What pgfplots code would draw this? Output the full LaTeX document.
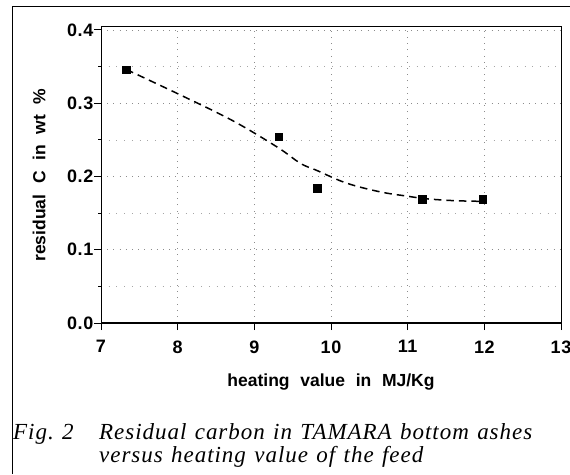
\documentclass[border=0pt]{standalone}
\usepackage{fontspec}
\setmainfont{Liberation Serif}
\setsansfont{Liberation Sans}
\newfontfamily\axfont[WordSpace=2.2]{Liberation Sans}
\newfontfamily\tickfont[LetterSpace=3]{Liberation Sans}
\newfontfamily\capfont[LetterSpace=4.2,WordSpace=1.25]{Liberation Serif}
\usepackage{pgfplots}
\pgfplotsset{compat=1.18}

\begin{document}
\begin{tikzpicture}[x=1pt,y=1pt]
\useasboundingbox (0,0) rectangle (570,474);
% frame round the figure
\draw[line width=1pt] (12,0) -- (12,467) -- (580,467);
\begin{axis}[
  at={(101pt,151pt)}, anchor=south west, scale only axis,
  width=460pt, height=296pt,
  xmin=7, xmax=13, ymin=0, ymax=0.404,
  xtick={7,8,9,10,11,12,13},
  ytick={0,0.1,0.2,0.3,0.4},
  minor ytick={0.05,0.15,0.25,0.35},
  axis line style={line width=1pt},
  tick align=outside, tick pos=left,
  major tick length=7pt,
  tick style={black, line width=0.9pt},
  /pgf/number format/assume math mode=true,
  ticklabel style={font=\tickfont\bfseries\fontsize{18}{18}\selectfont},
  yticklabel style={/pgf/number format/fixed, /pgf/number format/precision=1,
    /pgf/number format/fixed zerofill, inner sep=0.5pt},
  xticklabel style={yshift=-7pt},
  grid=both,
  major grid style={black!45, line width=0.6pt, dash pattern=on 0.7pt off 5.5pt},
  minor grid style={black!35, line width=0.6pt, dash pattern=on 0.7pt off 7pt},
  xlabel={heating value in MJ/Kg},
  ylabel={residual C in wt \%},
  label style={font=\axfont\bfseries\fontsize{17.5}{17.5}\selectfont},
  xlabel style={at={(axis description cs:0.5,0)}, anchor=center, yshift=-59pt},
  ylabel style={at={(axis description cs:0,0.5)}, anchor=center, yshift=62pt},
  clip=false,
]
% fitted trend
\addplot[black, line width=1.5pt, dash pattern=on 7.5pt off 5pt, smooth, tension=0.6]
  coordinates {(7.33,0.346)(8.06,0.310)(8.72,0.276)(9.3,0.240)(9.6,0.218)(9.82,0.208)
               (10.2,0.191)(10.64,0.179)(11.0,0.173)(11.19,0.170)(11.6,0.167)(12.0,0.166)};
% measurements
\addplot[only marks, mark=square*, mark size=3.7pt, black]
  coordinates {(7.33,0.346)(9.32,0.254)(9.82,0.184)(11.19,0.169)(11.98,0.169)};
\end{axis}
% caption
\node[anchor=base west, inner sep=0pt, font=\capfont\itshape\fontsize{23}{25}\selectfont] at (13,35) {Fig.~2};
\node[anchor=base west, inner sep=0pt, font=\capfont\itshape\fontsize{23}{25}\selectfont] at (99,35) {Residual carbon in TAMARA bottom ashes};
\node[anchor=base west, inner sep=0pt, font=\capfont\itshape\fontsize{23}{25}\selectfont] at (99,12) {versus heating value of the feed};
\end{tikzpicture}
\end{document}
